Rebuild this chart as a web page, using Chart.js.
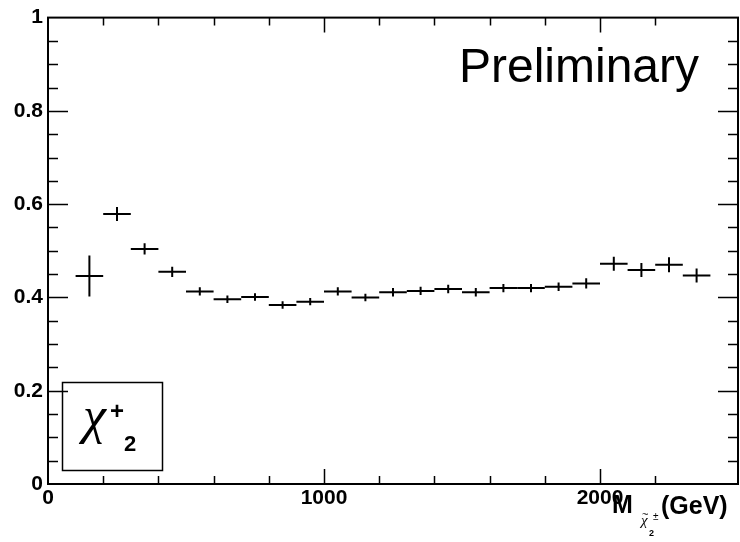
<!DOCTYPE html>
<html>
<head>
<meta charset="utf-8">
<script src="https://cdn.jsdelivr.net/npm/chart.js@4.4.1/dist/chart.umd.min.js"></script>
<style>
  html, body { margin: 0; padding: 0; background: #fff; }
  #wrap { width: 740px; height: 542px; position: relative; }
</style>
</head>
<body>
<div id="wrap"><canvas id="chart"></canvas></div>
<script>
// bin centres (GeV), fraction and its error
const massBins = [150, 250, 350, 450, 550, 650, 750, 850, 950, 1050, 1150, 1250,
                  1350, 1450, 1550, 1650, 1750, 1850, 1950, 2050, 2150, 2250, 2350];
const fractions = [0.446, 0.579, 0.504, 0.455, 0.413, 0.396, 0.401, 0.384, 0.391, 0.413, 0.400, 0.411,
                   0.414, 0.418, 0.411, 0.420, 0.420, 0.423, 0.430, 0.472, 0.459, 0.470, 0.447];
const fractionErr = [0.044, 0.015, 0.012, 0.011, 0.009, 0.008, 0.008, 0.008, 0.008, 0.009, 0.008, 0.009,
                     0.009, 0.009, 0.009, 0.009, 0.009, 0.009, 0.011, 0.015, 0.015, 0.016, 0.015];
const binWidth = 100;

const xTickLabels = ['0', '1000', '2000'];
const yTickLabels = ['0', '0.2', '0.4', '0.6', '0.8', '1'];

const FONT = '"Liberation Sans", Arial, sans-serif';
const GREEK = '"Liberation Serif", serif';

// error-bar crosses, ROOT style
const errorBars = {
    id: 'errorBars',
    afterDatasetsDraw(chart) {
        const { ctx, scales: { x, y } } = chart;
        ctx.save();
        ctx.strokeStyle = '#000';
        ctx.lineWidth = 2;
        massBins.forEach((m, i) => {
            const px = x.getPixelForValue(m);
            const py = y.getPixelForValue(fractions[i]);
            ctx.beginPath();
            ctx.moveTo(x.getPixelForValue(m - binWidth / 2), py);
            ctx.lineTo(x.getPixelForValue(m + binWidth / 2), py);
            ctx.moveTo(px, y.getPixelForValue(fractions[i] - fractionErr[i]));
            ctx.lineTo(px, y.getPixelForValue(fractions[i] + fractionErr[i]));
            ctx.stroke();
        });
        ctx.restore();
    }
};

// frame with inward ticks on all four sides, plus the text decorations
const frame = {
    id: 'frame',
    afterDraw(chart) {
        const { ctx, chartArea: a, scales: { x, y } } = chart;
        ctx.save();
        ctx.strokeStyle = '#000';
        ctx.lineWidth = 1.5;

        y.ticks.forEach(t => {
            const k = Math.round(t.value * 100);
            if (k <= 0 || k >= 100 || k % 5) return;
            const len = k % 20 === 0 ? 20 : 10;
            const py = Math.round(y.getPixelForValue(t.value)) + 0.5;
            ctx.beginPath();
            ctx.moveTo(a.left, py); ctx.lineTo(a.left + len, py);
            ctx.moveTo(a.right, py); ctx.lineTo(a.right - len, py);
            ctx.stroke();
        });
        x.ticks.forEach(t => {
            const v = Math.round(t.value);
            if (v <= 0 || v >= 2500 || v % 200) return;
            const len = v % 1000 === 0 ? 15 : 8;
            const px = Math.round(x.getPixelForValue(v)) + 0.5;
            ctx.beginPath();
            ctx.moveTo(px, a.bottom); ctx.lineTo(px, a.bottom - len);
            ctx.moveTo(px, a.top); ctx.lineTo(px, a.top + len);
            ctx.stroke();
        });

        ctx.lineWidth = 2;
        ctx.strokeRect(a.left, a.top, a.right - a.left, a.bottom - a.top);

        // label box
        ctx.lineWidth = 1.5;
        ctx.strokeRect(62.5, 382.5, 100, 88);
        ctx.fillStyle = '#000';
        ctx.textBaseline = 'alphabetic';
        ctx.textAlign = 'left';
        ctx.font = 'italic 52px ' + GREEK;
        ctx.fillText('\u03C7', 83, 433);
        ctx.font = 'bold 24px ' + FONT;
        ctx.fillText('+', 110, 419);
        ctx.font = 'bold 22px ' + FONT;
        ctx.fillText('2', 124, 451);

        // Preliminary
        ctx.font = '48px ' + FONT;
        ctx.fillText('Preliminary', 459, 82);

        // axis title
        ctx.font = 'bold 25px ' + FONT;
        ctx.fillText('M', 612, 513);
        ctx.fillText('(GeV)', 661, 514);
        ctx.font = 'italic 15px ' + GREEK;
        ctx.fillText('\u03C7', 641, 525);
        ctx.font = '11px ' + FONT;
        ctx.fillText('~', 642, 518);
        ctx.font = '10px ' + FONT;
        ctx.fillText('\u00B1', 653, 520);
        ctx.font = 'bold 9px ' + FONT;
        ctx.fillText('2', 649, 536);
        ctx.restore();
    }
};

new Chart(document.getElementById('chart'), {
    type: 'scatter',
    data: {
        datasets: [{
            data: massBins.map((m, i) => ({ x: m, y: fractions[i] })),
            pointRadius: 0,
            showLine: false
        }]
    },
    options: {
        responsive: true,
        maintainAspectRatio: false,
        animation: false,
        layout: { padding: { top: 15, right: 2, left: 0, bottom: 0 } },
        plugins: { legend: { display: false }, tooltip: { enabled: false } },
        scales: {
            x: {
                type: 'linear',
                min: 0,
                max: 2500,
                grid: { display: false, drawTicks: false },
                border: { display: false },
                ticks: {
                    stepSize: 200,
                    autoSkip: false,
                    maxRotation: 0,
                    padding: 2,
                    color: '#000',
                    font: { family: FONT, size: 21, weight: 'bold' },
                    callback: v => (v % 1000 === 0 ? xTickLabels[v / 1000] : '')
                },
                afterFit: s => { s.height = 58; }
            },
            y: {
                min: 0,
                max: 1,
                grid: { display: false, drawTicks: false },
                border: { display: false },
                ticks: {
                    stepSize: 0.05,
                    autoSkip: false,
                    padding: 5,
                    color: '#000',
                    font: { family: FONT, size: 21, weight: 'bold' },
                    callback: v => {
                        const k = Math.round(v * 100);
                        return k % 20 === 0 ? yTickLabels[k / 20] : '';
                    }
                },
                afterFit: s => { s.width = 48; }
            }
        }
    },
    plugins: [errorBars, frame]
});
</script>
</body>
</html>
